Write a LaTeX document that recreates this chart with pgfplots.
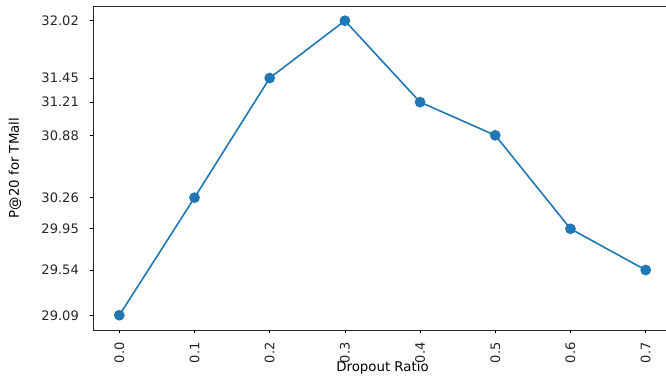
\documentclass[border=0pt]{standalone}
\usepackage{pgfplots}
\pgfplotsset{compat=1.18}
\usepackage{fontspec}
\setmainfont{DejaVu Sans}
\definecolor{mplblue}{HTML}{1F77B4}
\definecolor{txt}{HTML}{262626}
\begin{document}
\begin{tikzpicture}
\begin{axis}[
  scale only axis,
  width=434.25pt, height=243pt,
  xmin=-0.035, xmax=0.735,
  ymin=28.9435, ymax=32.1665,
  axis y line*=left,
  xtick={0,0.1,0.2,0.3,0.4,0.5,0.6,0.7},
  xticklabels={0.0,0.1,0.2,0.3,0.4,0.5,0.6,0.7},
  ytick={29.09,29.54,29.95,30.26,30.88,31.21,31.45,32.02},
  yticklabels={29.09,29.54,29.95,30.26,30.88,31.21,31.45,32.02},
  tick align=outside,
  tick pos=left,
  major tick length=2.6pt,
  every tick/.style={black, line width=0.6pt},
  axis line style={black!85, line width=0.6pt},
  tick label style={font=\fontsize{9.8}{11}\selectfont, text=txt, inner sep=0pt},
  xticklabel style={rotate=90, anchor=east},
  yticklabel style={anchor=east},
  xticklabel shift=6.5pt,
  yticklabel shift=7.8pt,
  label style={font=\fontsize{9.8}{11}\selectfont, text=txt},
  every axis x label/.style={at={(axis description cs:0.5,0)}, yshift=-28.5pt, anchor=center},
  every axis y label/.style={at={(axis description cs:0,0.5)}, xshift=-58.5pt, rotate=90, anchor=center},
  xlabel={Dropout Ratio},
  ylabel={P@20 for TMall},
]
\addplot[mplblue, line width=1.2pt, mark=*, mark size=3.4pt, mark options={mplblue}]
coordinates {
(0.0,29.09)
(0.1,30.26)
(0.2,31.45)
(0.3,32.02)
(0.4,31.21)
(0.5,30.88)
(0.6,29.95)
(0.7,29.54)
};
\end{axis}
\pgfresetboundingbox
\useasboundingbox ([xshift=-69.75pt, yshift=-37.5pt]current axis.south west) rectangle ([xshift=-4.5pt, yshift=4.5pt]current axis.north east);
\end{tikzpicture}
\end{document}
